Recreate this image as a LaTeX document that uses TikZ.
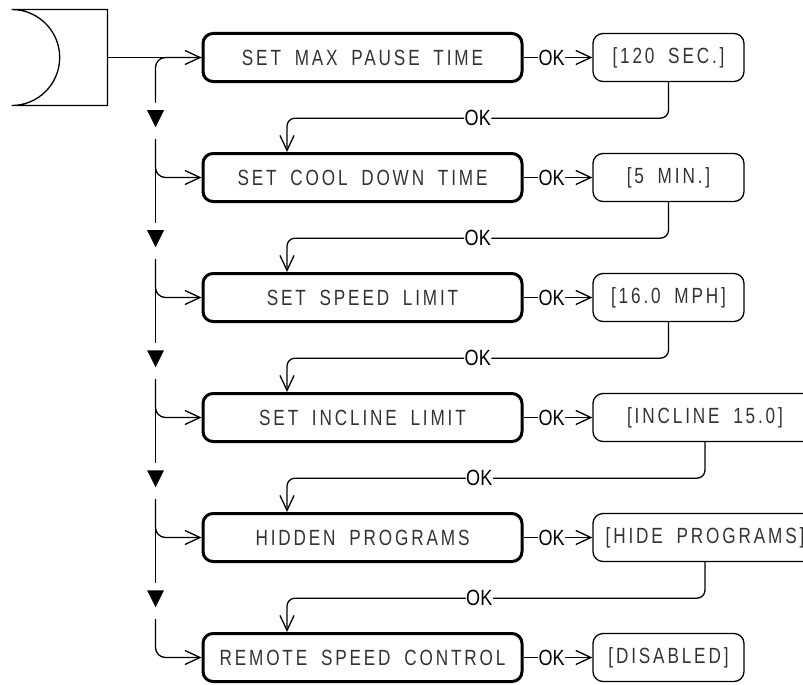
\documentclass[tikz,border=0pt]{standalone}
\usepackage{fontspec}
\usetikzlibrary{arrows.meta,shapes.geometric}
\newfontfamily\lcdfont[FakeStretch=0.78,LetterSpace=13,WordSpace=1.8]{Liberation Sans}
\newfontfamily\okfont[FakeStretch=0.82]{Liberation Sans}

\begin{document}
\begin{tikzpicture}[x=1pt,y=-1pt,line width=1.3pt,
  >={Straight Barb[length=15pt,width=14pt]},
  menu/.style={draw,line width=3pt,rounded corners=10pt,minimum width=319pt,
    minimum height=48pt,inner sep=0pt,text=black!80,
    font=\lcdfont\fontsize{22}{22}\selectfont},
  setting/.style={draw,line width=1.3pt,rounded corners=10pt,minimum width=151pt,
    minimum height=48pt,inner sep=0pt,text=black!80,
    font=\lcdfont\fontsize{22}{22}\selectfont},
  oklbl/.style={fill=white,inner sep=0.5pt,font=\okfont\fontsize{22}{22}\selectfont},
  marker/.style={isosceles triangle,isosceles triangle stretches,shape border rotate=-90,
    fill,draw=none,inner sep=0pt,minimum width=17pt,minimum height=17pt}]
  \clip (0,0) rectangle (803,685);

  % start symbol
  \draw (11.7,9.5) -- (107.5,9.5) -- (107.5,105.5) -- (11.7,105.5)
    arc[start angle=90,end angle=-90,radius=48];
  \coordinate (entry) at (107.5,57.5);

  % menu items and their settings
  \node[menu] (pause) at (362.5,57.5) {SET MAX PAUSE TIME};
  \node[setting] (secs) at (668.5,57.5) {[120 SEC.]};
  \node[menu] (cool) at (362.5,177.5) {SET COOL DOWN TIME};
  \node[setting] (mins) at (668.5,177.5) {[5 MIN.]};
  \node[menu] (speed) at (362.5,297.5) {SET SPEED LIMIT};
  \node[setting] (mph) at (668.5,297.5) {[16.0 MPH]};
  \node[menu] (incline) at (362.5,417.5) {SET INCLINE LIMIT};
  \node[setting,minimum width=224pt] (grade) at (705,417.5) {[INCLINE 15.0]};
  \node[menu] (hidden) at (362.5,537.5) {HIDDEN PROGRAMS};
  \node[setting,minimum width=224pt] (hide) at (705,537.5) {[HIDE PROGRAMS]};
  \node[menu] (remote) at (362.5,657.5) {REMOTE SPEED CONTROL};
  \node[setting] (disabled) at (668.5,657.5) {[DISABLED]};

  % down markers
  \node[marker] (t1) at (155.5,115.5) {};
  \node[marker] (t2) at (155.5,235.5) {};
  \node[marker] (t3) at (155.5,355.5) {};
  \node[marker] (t4) at (155.5,475.5) {};
  \node[marker] (t5) at (155.5,595.5) {};

  % left rail
  \draw[->] (entry) -- (pause.west);
  \draw[rounded corners=10pt,shorten <=7pt] (t1.lower side) |- (pause.west);
  \draw[->,rounded corners=10pt,shorten <=10pt] (t1.apex) |- (cool.west);
  \draw[->,rounded corners=10pt,shorten <=10pt] (t2.apex) |- (speed.west);
  \draw[->,rounded corners=10pt,shorten <=10pt] (t3.apex) |- (incline.west);
  \draw[->,rounded corners=10pt,shorten <=10pt] (t4.apex) |- (hidden.west);
  \draw[->,rounded corners=10pt,shorten <=10pt] (t5.apex) |- (remote.west);
  \draw[shorten <=10pt,shorten >=7pt] (t1.apex) -- (t2.lower side);
  \draw[shorten <=10pt,shorten >=7pt] (t2.apex) -- (t3.lower side);
  \draw[shorten <=10pt,shorten >=7pt] (t3.apex) -- (t4.lower side);
  \draw[shorten <=10pt,shorten >=7pt] (t4.apex) -- (t5.lower side);

  % OK to the settings
  \draw[->] (pause.east) -- node[oklbl,pos=0.41] {OK} (secs.west);
  \draw[->] (cool.east) -- node[oklbl,pos=0.41] {OK} (mins.west);
  \draw[->] (speed.east) -- node[oklbl,pos=0.41] {OK} (mph.west);
  \draw[->] (incline.east) -- node[oklbl,pos=0.41] {OK} (grade.west);
  \draw[->] (hidden.east) -- node[oklbl,pos=0.41] {OK} (hide.west);
  \draw[->] (remote.east) -- node[oklbl,pos=0.41] {OK} (disabled.west);

  % OK back to the next item
  \draw[->,rounded corners=8pt] (secs.south) -- ++(0,36)
    -| node[oklbl,pos=0.25] {OK} ([xshift=-75.5pt]cool.north);
  \draw[->,rounded corners=8pt] (mins.south) -- ++(0,36)
    -| node[oklbl,pos=0.25] {OK} ([xshift=-75.5pt]speed.north);
  \draw[->,rounded corners=8pt] (mph.south) -- ++(0,36)
    -| node[oklbl,pos=0.25] {OK} ([xshift=-75.5pt]incline.north);
  \draw[->,rounded corners=8pt] (grade.south) -- ++(0,36)
    -| node[oklbl,pos=0.27] {OK} ([xshift=-75.5pt]hidden.north);
  \draw[->,rounded corners=8pt] (hide.south) -- ++(0,36)
    -| node[oklbl,pos=0.27] {OK} ([xshift=-75.5pt]remote.north);
\end{tikzpicture}
\end{document}
